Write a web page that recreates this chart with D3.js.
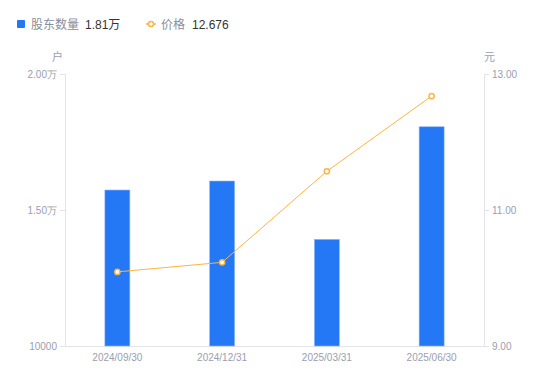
<!DOCTYPE html>
<html>
<head>
<meta charset="utf-8">
<script src="https://cdn.jsdelivr.net/npm/d3@7"></script>
<style>
  body { margin: 0; background: #fff; }
  svg { display: block; font-family: "Liberation Sans", "Noto Sans CJK SC", sans-serif; }
</style>
</head>
<body>
<div id="chart"></div>
<script>
const categories = ['2024/09/30', '2024/12/31', '2025/03/31', '2025/06/30'];
const holders = [15735, 16066, 13920, 18060];   // 股东数量 (户)
const prices = [10.09, 10.23, 11.57, 12.676];   // 价格 (元)
const leftTicks = [10000, 15000, 20000];
const rightTicks = [9, 11, 13];

const W = 550, H = 381;
const m = { top: 74, right: 66, bottom: 35, left: 65 };
const barColor = '#2477F5';
const lineColor = '#FDB541';
const axisColor = '#E3E4E8';
const labelColor = '#9A9EAE';

const svg = d3.select('#chart').append('svg')
  .attr('width', W)
  .attr('height', H);

const x = d3.scaleBand()
  .domain(categories)
  .range([m.left, W - m.right]);

const yL = d3.scaleLinear().domain([10000, 20000]).range([H - m.bottom, m.top]);
const yR = d3.scaleLinear().domain([9, 13]).range([H - m.bottom, m.top]);

// 左轴数值格式：一万以上用"万"
const fmtLeft = v => v >= 15000 ? (v / 10000).toFixed(2) + '万' : String(v);

function styleAxis(g) {
  g.select('.domain').attr('stroke', axisColor);
  g.selectAll('.tick line').attr('stroke', axisColor);
  g.selectAll('.tick text').attr('fill', labelColor).style('font-size', '10px');
}

svg.append('g')
  .attr('transform', `translate(${m.left},0)`)
  .call(d3.axisLeft(yL).tickValues(leftTicks).tickFormat(fmtLeft).tickSizeOuter(0).tickSize(5).tickPadding(3))
  .call(styleAxis);

svg.append('g')
  .attr('transform', `translate(${W - m.right},0)`)
  .call(d3.axisRight(yR).tickValues(rightTicks).tickFormat(d3.format('.2f')).tickSizeOuter(0).tickSize(5).tickPadding(3))
  .call(styleAxis);

svg.append('g')
  .attr('transform', `translate(0,${H - m.bottom})`)
  .call(d3.axisBottom(x).tickSize(0).tickPadding(8))
  .call(styleAxis);

// 单位
svg.append('text').attr('x', m.left - 2).attr('y', 61)
  .attr('text-anchor', 'end').attr('fill', labelColor).style('font-size', '11px').text('户');
svg.append('text').attr('x', W - m.right).attr('y', 61)
  .attr('fill', labelColor).style('font-size', '11px').text('元');

// 柱子
const bw = 25;
svg.append('g').selectAll('rect').data(holders)
  .join('rect')
  .attr('x', (d, i) => x(categories[i]) + x.bandwidth() / 2 - bw / 2)
  .attr('y', d => yL(d))
  .attr('width', bw)
  .attr('height', d => yL(10000) - yL(d))
  .attr('fill', barColor)
  .attr('stroke', '#8fb8fa')
  .attr('stroke-width', 0.6);

// 折线
const line = d3.line()
  .x((d, i) => x(categories[i]) + x.bandwidth() / 2)
  .y(d => yR(d));

svg.append('path')
  .datum(prices)
  .attr('d', line)
  .attr('fill', 'none')
  .attr('stroke', lineColor)
  .attr('stroke-width', 1);

svg.append('g').selectAll('circle').data(prices)
  .join('circle')
  .attr('cx', (d, i) => x(categories[i]) + x.bandwidth() / 2)
  .attr('cy', d => yR(d))
  .attr('r', 2.6)
  .attr('fill', '#fff')
  .attr('stroke', lineColor)
  .attr('stroke-width', 1.5);

// 图例
const lg = svg.append('g').style('font-size', '12px');
lg.append('rect').attr('x', 17).attr('y', 20).attr('width', 8).attr('height', 8).attr('rx', 1).attr('fill', barColor);
lg.append('text').attr('x', 31).attr('y', 29).attr('fill', '#8a8e9c').text('股东数量');
lg.append('text').attr('x', 85).attr('y', 29).attr('fill', '#333').text((holders[holders.length - 1] / 10000).toFixed(2) + '万');
lg.append('line').attr('x1', 146).attr('x2', 156).attr('y1', 24).attr('y2', 24).attr('stroke', lineColor).attr('stroke-width', 1.5);
lg.append('circle').attr('cx', 151).attr('cy', 24).attr('r', 2.5).attr('fill', '#fff').attr('stroke', lineColor).attr('stroke-width', 1.5);
lg.append('text').attr('x', 161).attr('y', 29).attr('fill', '#8a8e9c').text('价格');
lg.append('text').attr('x', 192).attr('y', 29).attr('fill', '#333').text(d3.format('.3f')(prices[prices.length - 1]));
</script>
</body>
</html>
